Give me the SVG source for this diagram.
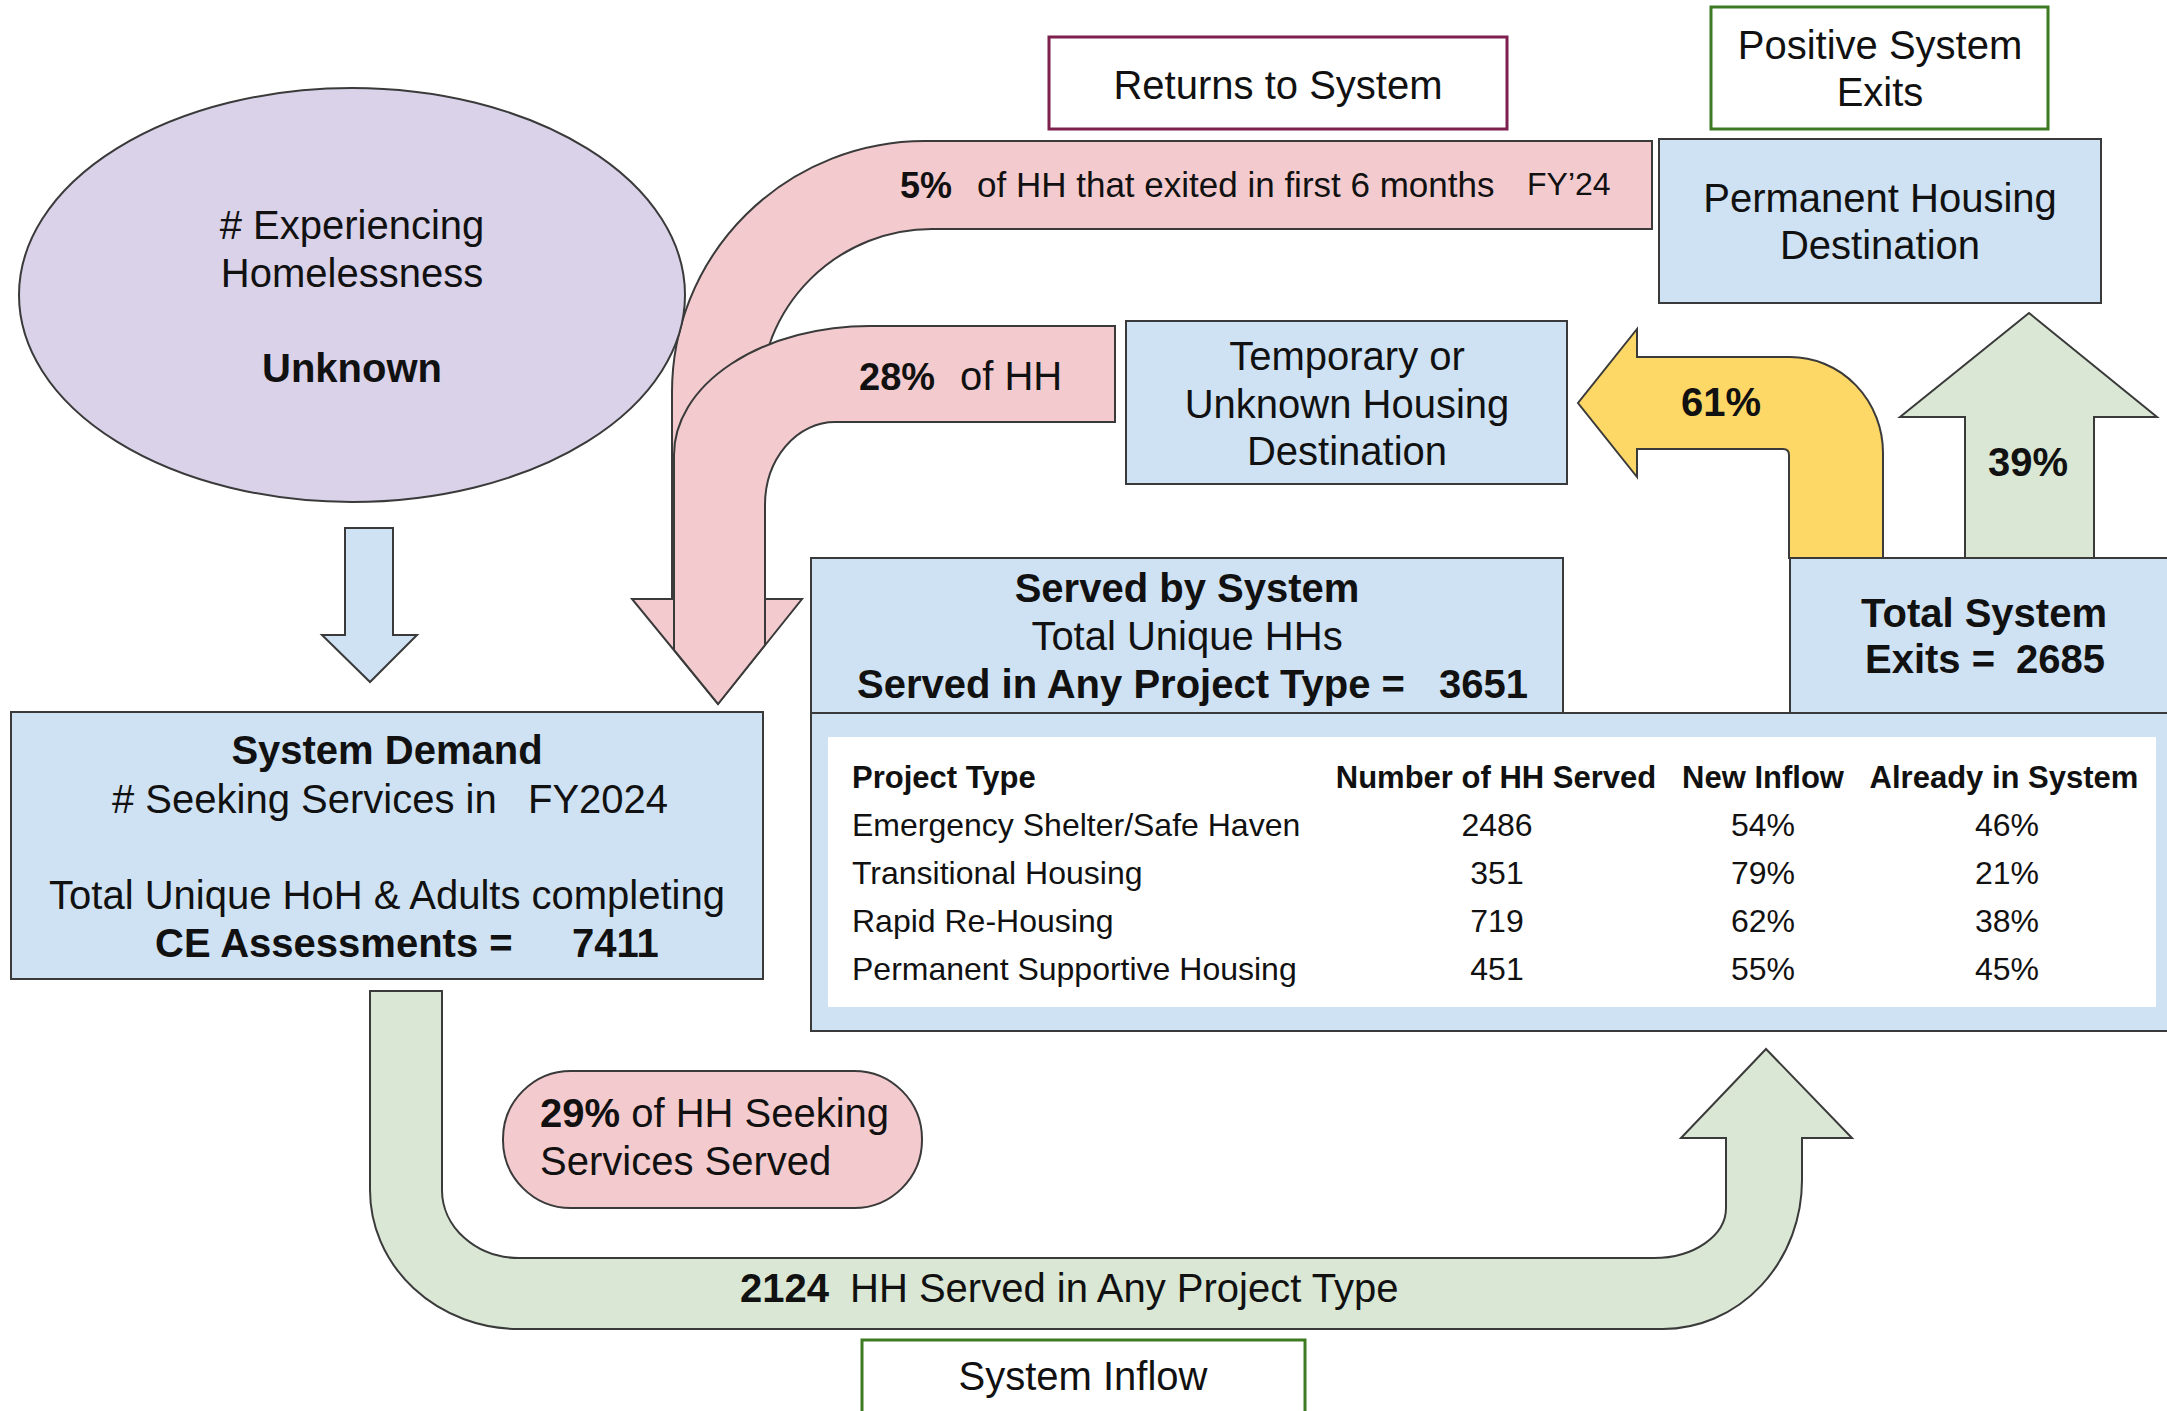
<svg xmlns="http://www.w3.org/2000/svg" width="2167" height="1411" viewBox="0 0 2167 1411">
<style>
text{font-family:"Liberation Sans",Arial,sans-serif;fill:#111}
.t40{font-size:40px}
.b{font-weight:bold}
.c{text-anchor:middle}
.shape{stroke:#3a3a3a;stroke-width:2}
.blue{fill:#cfe2f3}
.pink{fill:#f3cbcf}
.green{fill:#d9e7d4}
.tb{font-size:32px}
.th{font-size:31px;font-weight:bold}
</style>
<rect width="2167" height="1411" fill="#ffffff"/>
<g id="connectors">
  <path id="return-5" class="shape pink" d="M1652,141 L925,141 A253,251 0 0 0 672,392 L672,599 L632,599 L718,704 L802,599 L760,599 L760,400 A172,171 0 0 1 932,229 L1652,229 Z"/>
  <path id="return-28" class="shape pink" d="M1115,326 L870,326 A196,129 0 0 0 674,455 L674,650 L718,704 L765,645 L765,505 A70,83 0 0 1 835,422 L1115,422 Z"/>
  <path id="demand-arrow" class="shape blue" d="M345,528 L393,528 L393,635 L417,635 L370,682 L322,635 L345,635 Z"/>
  <path id="inflow-arrow" class="shape green" d="M370,991 L442,991 L442,1190 A77,68 0 0 0 519,1258 L1654,1258 A72,50 0 0 0 1726,1208 L1726,1138 L1681,1138 L1766,1049 L1852,1138 L1802,1138 L1802,1180 A139,149 0 0 1 1663,1329 L519,1329 A149,139 0 0 1 370,1190 Z"/>
  <path id="exit-temp-arrow" class="shape" fill="#fdd866" d="M1789,558 L1789,455 Q1789,449 1783,449 L1637,449 L1637,477 L1578,403 L1637,329 L1637,357 L1790,357 A93,96 0 0 1 1883,453 L1883,558 Z"/>
  <path id="exit-perm-arrow" class="shape green" d="M1965,558 L1965,417 L1900,417 L2029,313 L2157,417 L2094,417 L2094,558 Z"/>
  <text x="900" y="198" class="b" font-size="36">5%</text>
  <text x="977" y="197" font-size="35">of HH that exited in first 6 months</text>
  <text x="1527" y="195" font-size="32">FY’24</text>
  <text x="859" y="390" class="b" font-size="38">28%</text>
  <text x="960" y="390" font-size="40">of HH</text>
  <text x="1721" y="416" class="t40 b c">61%</text>
  <text x="2028" y="476" class="t40 b c">39%</text>
  <text x="740" y="1302" class="t40 b">2124</text>
  <text x="850" y="1302" class="t40">HH Served in Any Project Type</text>
</g>
<g id="homeless">
  <ellipse cx="352" cy="295" rx="333" ry="207" fill="#d9d2e9" class="shape"/>
  <text x="352" y="239" class="t40 c"># Experiencing</text>
  <text x="352" y="287" class="t40 c">Homelessness</text>
  <text x="352" y="382" class="t40 c b">Unknown</text>
</g>
<g id="returns-label">
  <rect x="1049" y="37" width="458" height="92" fill="#fff" stroke="#7d1f4d" stroke-width="3"/>
  <text x="1278" y="99" class="t40 c">Returns to System</text>
</g>
<g id="positive-label">
  <rect x="1711" y="7" width="337" height="122" fill="#fff" stroke="#3d7a22" stroke-width="3"/>
  <text x="1880" y="59" class="t40 c">Positive System</text>
  <text x="1880" y="106" class="t40 c">Exits</text>
</g>
<g id="permanent">
  <rect x="1659" y="139" width="442" height="164" class="shape blue"/>
  <text x="1880" y="212" class="t40 c">Permanent Housing</text>
  <text x="1880" y="259" class="t40 c">Destination</text>
</g>
<g id="temporary">
  <rect x="1126" y="321" width="441" height="163" class="shape blue"/>
  <text x="1347" y="370" class="t40 c">Temporary or</text>
  <text x="1347" y="418" class="t40 c">Unknown Housing</text>
  <text x="1347" y="465" class="t40 c">Destination</text>
</g>
<g id="demand">
  <rect x="11" y="712" width="752" height="267" class="shape blue"/>
  <text x="387" y="764" class="t40 c b">System Demand</text>
  <text x="112" y="813" class="t40"># Seeking Services in</text>
  <text x="528" y="813" class="t40">FY2024</text>
  <text x="387" y="909" class="t40 c">Total Unique HoH &amp; Adults completing</text>
  <text x="155" y="957" class="t40 b">CE Assessments =</text>
  <text x="572" y="957" class="t40 b">7411</text>
</g>
<g id="table">
  <rect x="811" y="713" width="1360" height="318" class="shape blue"/>
  <rect x="828" y="737" width="1328" height="270" fill="#ffffff"/>
  <text x="852" y="788" class="th">Project Type</text>
  <text x="1496" y="788" class="th c">Number of HH Served</text>
  <text x="1763" y="788" class="th c">New Inflow</text>
  <text x="2004" y="788" class="th c">Already in System</text>
  <text x="852" y="836" class="tb">Emergency Shelter/Safe Haven</text>
  <text x="1497" y="836" class="tb c">2486</text>
  <text x="1763" y="836" class="tb c">54%</text>
  <text x="2007" y="836" class="tb c">46%</text>
  <text x="852" y="884" class="tb">Transitional Housing</text>
  <text x="1497" y="884" class="tb c">351</text>
  <text x="1763" y="884" class="tb c">79%</text>
  <text x="2007" y="884" class="tb c">21%</text>
  <text x="852" y="932" class="tb">Rapid Re-Housing</text>
  <text x="1497" y="932" class="tb c">719</text>
  <text x="1763" y="932" class="tb c">62%</text>
  <text x="2007" y="932" class="tb c">38%</text>
  <text x="852" y="980" class="tb">Permanent Supportive Housing</text>
  <text x="1497" y="980" class="tb c">451</text>
  <text x="1763" y="980" class="tb c">55%</text>
  <text x="2007" y="980" class="tb c">45%</text>
</g>
<g id="served">
  <rect x="811" y="558" width="752" height="155" class="shape blue"/>
  <text x="1187" y="602" class="t40 c b">Served by System</text>
  <text x="1187" y="650" class="t40 c">Total Unique HHs</text>
  <text x="857" y="698" class="t40 b">Served in Any Project Type =</text>
  <text x="1439" y="698" class="t40 b">3651</text>
</g>
<g id="exits">
  <rect x="1790" y="558" width="390" height="155" class="shape blue"/>
  <text x="1984" y="627" class="t40 c b">Total System</text>
  <text x="1865" y="673" class="t40 b">Exits =</text>
  <text x="2016" y="673" class="t40 b">2685</text>
</g>
<g id="served-pct">
  <rect x="503" y="1071" width="419" height="137" rx="68" ry="68" class="shape pink"/>
  <text x="540" y="1127" class="t40"><tspan class="b">29%</tspan> of HH Seeking</text>
  <text x="540" y="1175" class="t40">Services Served</text>
</g>
<g id="inflow-label">
  <rect x="862" y="1340" width="443" height="90" fill="#fff" stroke="#3d7a22" stroke-width="3"/>
  <text x="1083" y="1390" class="t40 c">System Inflow</text>
</g>
</svg>
